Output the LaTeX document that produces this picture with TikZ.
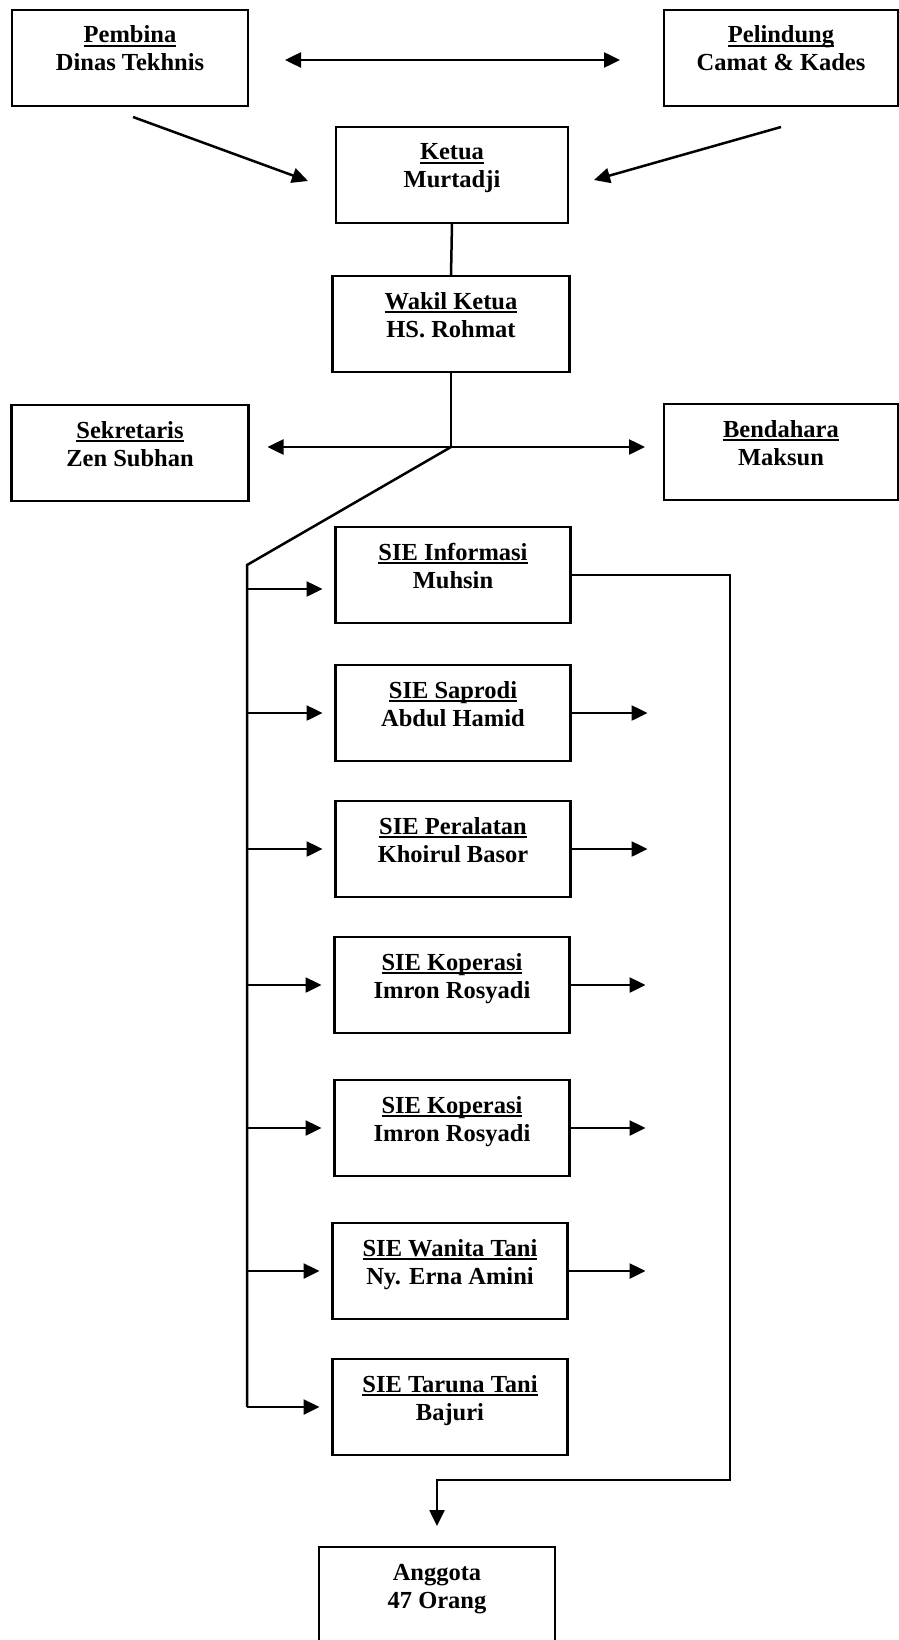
\documentclass[tikz,border=0pt]{standalone}
\usepackage{fontspec}
\setmainfont{Liberation Serif}
\newcommand\thul[1]{\setbox0=\hbox{#1}\rlap{\vrule height -2.2pt depth 4pt width \wd0}\box0}
\usetikzlibrary{arrows.meta,calc}
\tikzset{
  box/.style={draw, line width=2.8pt, minimum height=96pt, anchor=north, inner sep=0pt, outer sep=0pt},
  lbl/.style={anchor=base, inner sep=0pt, outer sep=0pt, font=\bfseries\fontsize{24.5}{28}\selectfont},
  conn/.style={line width=2.5pt},
  arr/.style={conn, -{Triangle[length=16pt,width=15pt]}},
  darr/.style={conn, {Triangle[length=16pt,width=15pt]}-{Triangle[length=16pt,width=15pt]}},
}
\newcommand\mkbox[7]{%
  \node[box, minimum width=#4pt] (#1) at (#2,-#3) {};
  \node[lbl] (#1t) at ([yshift=-33pt]#1.north) {#6};
  \node[lbl] (#1s) at ([yshift=-61pt]#1.north) {#7};
}
\begin{document}
\begin{tikzpicture}[x=1pt,y=1pt]
\useasboundingbox (0,0) rectangle (898,-1640);
% top level
\mkbox{pem}{130}{10}{236}{}{\thul{Pembina}}{Dinas Tekhnis}
\mkbox{pel}{781}{10}{234}{}{\thul{Pelindung}}{Camat \& Kades}
\mkbox{ket}{452}{127}{232}{}{\thul{Ketua}}{Murtadji}
\mkbox{wak}{451}{276}{237}{}{\thul{Wakil Ketua}}{HS. Rohmat}
\mkbox{sek}{130}{405}{237}{}{\thul{Sekretaris}}{Zen Subhan}
\mkbox{ben}{781}{404}{234}{}{\thul{Bendahara}}{Maksun}
% SIE column
\mkbox{inf}{453}{527}{235}{}{\thul{SIE Informasi}}{Muhsin}
\mkbox{sap}{453}{665}{235}{}{\thul{SIE Saprodi}}{Abdul Hamid}
\mkbox{per}{453}{801}{235}{}{\thul{SIE Peralatan}}{Khoirul Basor}
\mkbox{kopa}{452}{937}{235}{}{\thul{SIE Koperasi}}{Imron Rosyadi}
\mkbox{kopb}{452}{1080}{235}{}{\thul{SIE Koperasi}}{Imron Rosyadi}
\mkbox{wan}{450}{1223}{235}{}{\thul{SIE Wanita Tani}}{Ny. Erna Amini}
\mkbox{tar}{450}{1359}{235}{}{\thul{SIE Taruna Tani}}{Bajuri}
\mkbox{ang}{437}{1547}{236}{}{Anggota}{47 Orang}

% coordinates
\coordinate (j) at (451,-447);
\coordinate (sp) at (247,-565);
\coordinate (rt) at (730,-1480);
\coordinate (infa) at ([xshift=-13pt,yshift=-14pt]inf.west);

% top connectors
\draw[darr] ([xshift=37pt,yshift=-2pt]pem.east) -- ([xshift=-44pt,yshift=-2pt]pel.west);
\draw[arr] ([xshift=3pt,yshift=-11pt]pem.south) -- ([xshift=-28pt,yshift=-6pt]ket.west);
\draw[arr] ([yshift=-21pt]pel.south) -- ([xshift=26pt,yshift=-5pt]ket.east);
\draw[conn] (ket.south) -- (wak.north);
\draw[conn] (wak.south) -- (j);
\draw[arr] (j) -- ([xshift=19pt]sek.east |- j);
\draw[arr] (j) -- ([xshift=-19pt]ben.west |- j);
\draw[conn] (j) -- (sp) -- (sp |- tar.west);

% branches to SIE boxes
\draw[arr] (sp |- infa) -- (infa);
\foreach \b in {sap,per,kopa,kopb,wan,tar}{
  \draw[arr] (sp |- \b.west) -- ([xshift=-13pt]\b.west);
}
% right arrows
\draw[arr] (sap.east) -- ([xshift=77pt]sap.east);
\draw[arr] (per.east) -- ([xshift=77pt]per.east);
\draw[arr] (kopa.east) -- ([xshift=76pt]kopa.east);
\draw[arr] (kopb.east) -- ([xshift=76pt]kopb.east);
\draw[arr] (wan.east) -- ([xshift=78pt]wan.east);

% Informasi to Anggota
\draw[arr] (inf.east) -| (rt) -| ([yshift=21pt]ang.north);
\end{tikzpicture}
\end{document}
